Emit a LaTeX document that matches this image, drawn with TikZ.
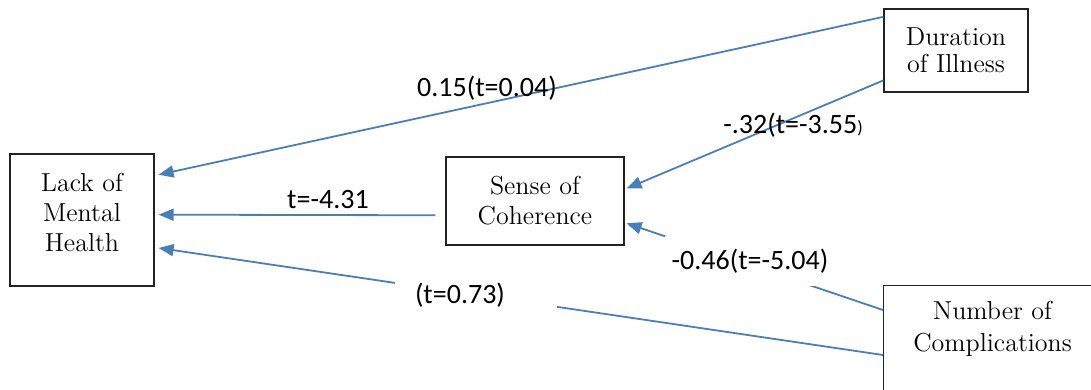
\documentclass[tikz,border=0pt]{standalone}
\usepackage{fontspec}
\usepackage{tikz}
\usetikzlibrary{arrows.meta,calc}
\newfontfamily\coeffont{Carlito}
\definecolor{pathblue}{HTML}{4A7EBB}
\definecolor{boxline}{HTML}{222222}
\tikzset{
  var/.style={draw=boxline,line width=0.6pt,align=center,inner sep=0pt,font=\fontsize{13}{15}\selectfont},
  path arrow/.style={pathblue,line width=0.9pt,-{Triangle[length=7.5pt,width=6pt]}},
  coef/.style={font=\coeffont\fontsize{14}{16}\selectfont,inner sep=0pt}
}

\begin{document}
\begin{tikzpicture}[x=0.5pt,y=-0.5pt]
\useasboundingbox (0,0) rectangle (1091,390);
\clip (0,0) rectangle (1091,390);
\node[var,minimum width=72pt,minimum height=66pt] (lack) at (82,220) {Lack of\\Mental\\Health\rule[-8pt]{0pt}{0pt}};
\node[var,minimum width=89pt,minimum height=44pt] (sense) at (535,201) {Sense of\\Coherence};
\node[var,minimum width=72pt,minimum height=41.5pt,font=\fontsize{13}{13.5}\selectfont] (dur) at (956,50.5) {Duration\\of Illness};
\node[var,anchor=north west,minimum width=109pt,inner ysep=8pt,font=\fontsize{13}{16}\selectfont] (num) at (883,285) {Number of\\Complications\rule[-30pt]{0pt}{0pt}};
\draw[path arrow] ($(dur.north west)!0.1!(dur.south west)$) -- ($(lack.north east)!0.16!(lack.south east)+(4,0)$);
\draw[path arrow] ($(dur.north west)!0.855!(dur.south west)$) -- ($(sense.north east)!0.36!(sense.south east)+(2,0)$);
\draw[path arrow] ($(sense.north west)!0.66!(sense.south west)+(-10,0)$) -- ($(lack.north east)!0.46!(lack.south east)+(4,0)$);
\draw[path arrow] ($(num.north west)+(0,25)$) -- ($(sense.north east)!0.75!(sense.south east)+(2,0)$);
\draw[path arrow] ($(num.north west)+(0,70)$) -- ($(lack.north east)!0.71!(lack.south east)+(4,0)$);
\node[coef] (c1) at (487,88) {0.15(t=0.04)};
\node[coef] (c2) at (793,125) {-.32(t=-3.55{\fontsize{9}{10}\selectfont)}};
\node[coef] (c3) at (328,200) {t=-4.31};
\node[coef,fill=white,minimum width=85pt,minimum height=25pt] (c4) at (750,261) {-0.46(t=-5.04)};
\node[coef,fill=white,text width=61pt,inner xsep=10pt,align=left,minimum height=17pt] (c5) at (476,295) {(t=0.73)};
\end{tikzpicture}
\end{document}
